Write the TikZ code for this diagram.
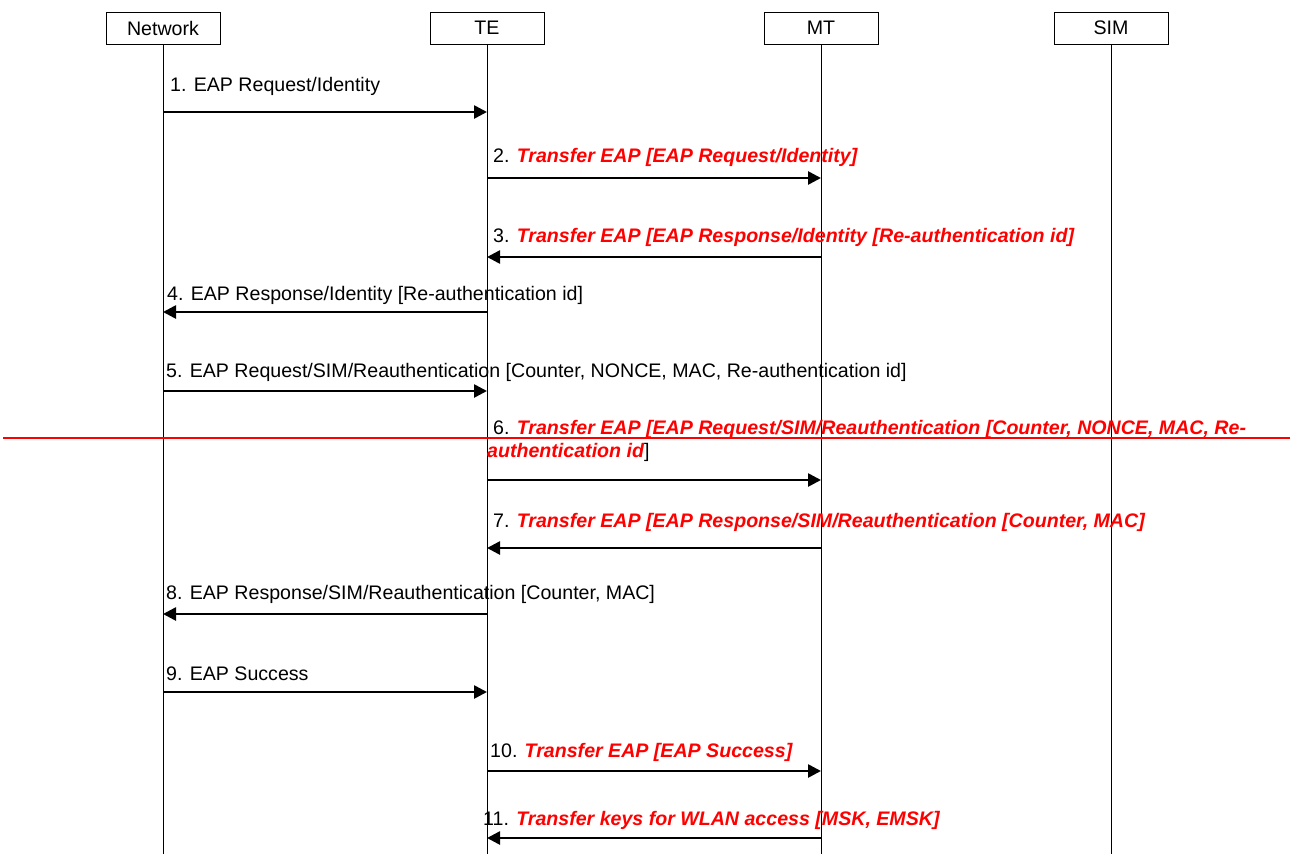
\documentclass[tikz,border=0pt]{standalone}
\usepackage{fontspec}
\setmainfont{Liberation Sans}
\usetikzlibrary{arrows.meta,positioning}

\newcommand{\redtxt}[1]{\textcolor{red}{\bfseries\itshape #1}}

\tikzset{
  entity/.style={draw,line width=1pt,minimum width=114pt,minimum height=32pt,inner sep=0pt,font=\fontsize{19.6}{23}\selectfont},
  life/.style={line width=1pt},
  msg/.style={line width=2.6pt,-{Triangle[length=13pt,width=13pt]}},
  lbl/.style={anchor=base west,inner sep=0pt,font=\fontsize{19.6}{23}\selectfont}
}

\begin{document}
\begin{tikzpicture}[x=1pt,y=-1pt]
\useasboundingbox (0,0) rectangle (1290,854);

% entities
\node[entity] (net) at (163,28) {Network};
\node[entity] (te) at (487,28) {TE};
\node[entity] (mt) at (821,28) {MT};
\node[entity] (sim) at (1111,28) {SIM};

% lifelines
\coordinate (bottom) at (0,854);
\draw[life] (net.south) -- (net.south |- bottom);
\draw[life] (te.south) -- (te.south |- bottom);
\draw[life] (mt.south) -- (mt.south |- bottom);
\draw[life] (sim.south) -- (sim.south |- bottom);

% message points on the lifelines
\foreach \n/\y in {1/112,2/178,3/257,4/312,5/391,6/480,7/548,8/614,9/692,10/771,11/838}{
  \coordinate (net\n) at (163,\y);
  \coordinate (te\n) at (487,\y);
  \coordinate (mt\n) at (821,\y);
}

% messages
\draw[msg] (net1) -- (te1);
\node[lbl] (m1) at (170,91) {1. EAP Request/Identity};

\draw[msg] (te2) -- (mt2);
\node[lbl] (m2) at (493,162) {2. \redtxt{Transfer EAP [EAP Request/Identity]}};

\draw[msg] (mt3) -- (te3);
\node[lbl] (m3) at (493,242) {3. \redtxt{Transfer EAP [EAP Response/Identity [Re-authentication id]}};

\draw[msg] (te4) -- (net4);
\node[lbl] (m4) at (167,300) {4. EAP Response/Identity [Re-authentication id]};

\draw[msg] (net5) -- (te5);
\node[lbl] (m5) at (166,377) {5. EAP Request/SIM/Reauthentication [Counter, NONCE, MAC, Re-authentication id]};

\draw[msg] (te6) -- (mt6);
\node[lbl] (m6) at (493,434) {6. \redtxt{Transfer EAP [EAP Request/SIM/Reauthentication [Counter, NONCE, MAC, Re-}};
\node[lbl] (m6b) at (487,457) {\redtxt{authentication id}]};
% change mark
\draw[red,line width=2pt] (3,438) -- (1290,438);

\draw[msg] (mt7) -- (te7);
\node[lbl] (m7) at (493,527) {7. \redtxt{Transfer EAP [EAP Response/SIM/Reauthentication [Counter, MAC]}};

\draw[msg] (te8) -- (net8);
\node[lbl] (m8) at (166,599) {8. EAP Response/SIM/Reauthentication [Counter, MAC]};

\draw[msg] (net9) -- (te9);
\node[lbl] (m9) at (166,680) {9. EAP Success};

\draw[msg] (te10) -- (mt10);
\node[lbl] (m10) at (490,757) {10. \redtxt{Transfer EAP [EAP Success]}};

\draw[msg] (mt11) -- (te11);
\node[lbl] (m11) at (483,825) {11. \redtxt{Transfer keys for WLAN access [MSK, EMSK]}};

\end{tikzpicture}
\end{document}
